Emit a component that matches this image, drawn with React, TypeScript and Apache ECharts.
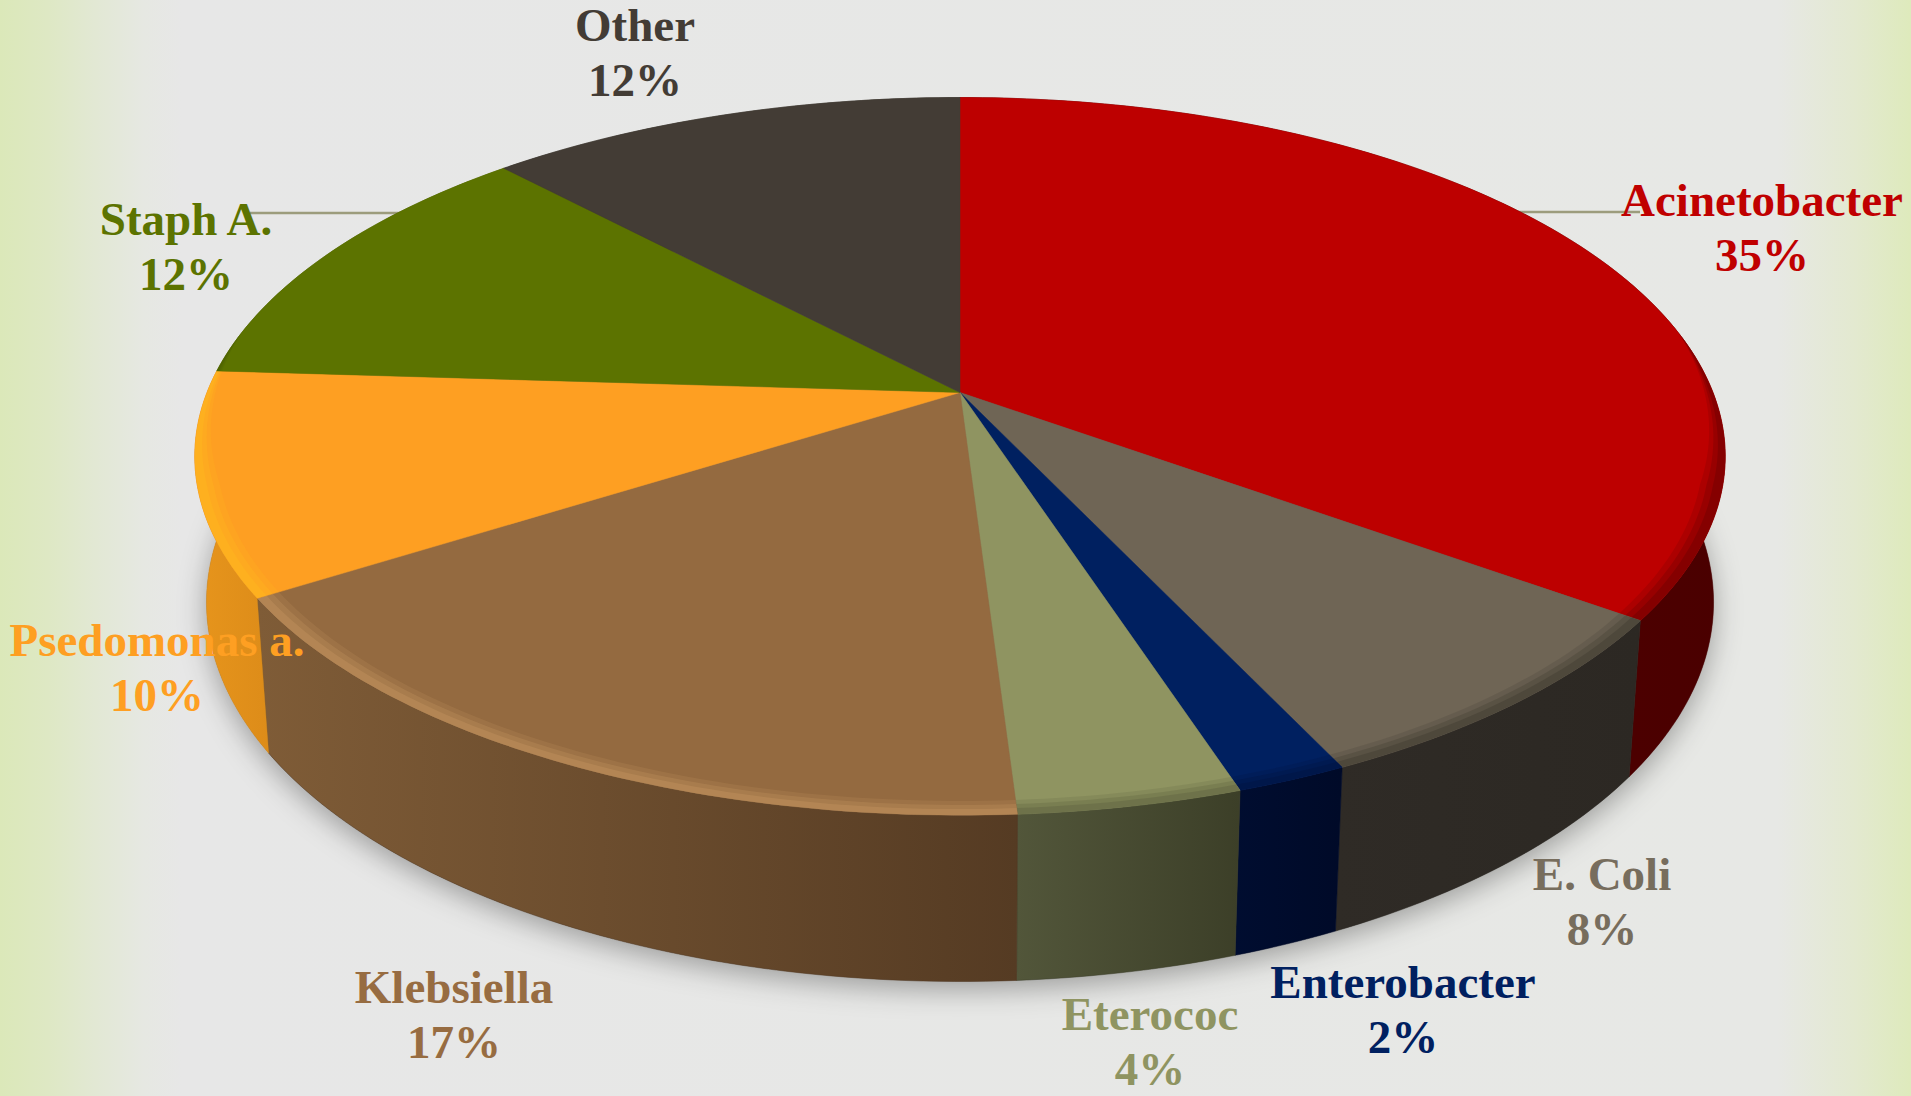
import React, { useEffect, useRef } from "react";
import * as echarts from "echarts";

// Share of isolates per organism, clockwise from twelve o'clock.
const organisms = ["Acinetobacter", "E. Coli", "Enterobacter", "Eterococ", "Klebsiella", "Psedomonas a.", "Staph A.", "Other"];
const shares = [35, 8, 2, 4, 17, 10, 12, 12];

const topColors = ["#bd0000", "#6f6555", "#002060", "#8f9461", "#946a40", "#fe9f22", "#5c7300", "#433c35"];
const rimColors = ["#6a0000", "#3f3a30", "#001440", "#5f6240", "#c4945f", "#ffb81f", "#4c5f00", "#3a342e"];
const sideLeftColors = ["#5a0000", "#2f2b26", "#000d30", "#52563a", "#7f5c37", "#e7951c", "#4c5f00", "#3a342e"];
const sideRightColors = ["#4a0000", "#2c2823", "#000a28", "#3c3f28", "#553b23", "#dd8c19", "#4c5f00", "#3a342e"];
const labelColors = ["#c00000", "#776d5d", "#002060", "#8f9461", "#976c41", "#fe9f22", "#5c7300", "#433c35"];

// Label centres in page pixels (block of two lines), same order as the organisms.
const labelAnchors = [
  [1762, 227], [1602, 901], [1403, 1009], [1150, 1041],
  [454, 1014], [157, 667], [186, 246], [635, 52],
];
const LINE_GAP = 55;

// Perspective model of the disc: screen position of a point on the rim.
const CX = 960;
const CY = 392.5;
const A = 753;
const B = 347.5;
const K = 0.178;
const DROP = 145.5;
const DEPTH = 0.015;
const STEP = Math.PI / 180;

// The bevel only shows on the half of the rim that faces the viewer: stacked translucent
// ribbons running inward from the edge give it a soft inner falloff, and they narrow to
// nothing towards the silhouette.
const FRONT_FROM = 80 * STEP;
const FRONT_TO = 280 * STEP;
const BEVEL_TAPER = 25 * STEP;
const BEVEL_RIBBONS = [
  { inner: 0.972, opacity: 0.2 },
  { inner: 0.98, opacity: 0.3 },
  { inner: 0.988, opacity: 0.4 },
];

type Pt = [number, number];

function project(theta: number, r: number, lower: boolean): Pt {
  const u = Math.sin(theta) * r;
  const v = Math.cos(theta) * r;
  const w = 1 + K * v + (lower ? DEPTH : 0);
  return [CX + (A * u) / w, CY - (B * v - (lower ? DROP : 0)) / w];
}

function arc(from: number, to: number, lower: boolean): Pt[] {
  const pts: Pt[] = [];
  const n = Math.max(2, Math.ceil((to - from) / STEP));
  for (let i = 0; i <= n; i++) pts.push(project(from + ((to - from) * i) / n, 1, lower));
  return pts;
}

function bevelEdge(from: number, to: number, inner: number): Pt[] {
  const pts: Pt[] = [];
  const n = Math.max(2, Math.ceil((to - from) / STEP));
  for (let i = 0; i <= n; i++) {
    const theta = from + ((to - from) * i) / n;
    const reach = Math.min(1, (theta - FRONT_FROM) / BEVEL_TAPER, (FRONT_TO - theta) / BEVEL_TAPER);
    pts.push(project(theta, 1 - (1 - inner) * reach, false));
  }
  return pts;
}

const total = shares.reduce((s, v) => s + v, 0);

function sweep(index: number, value: number): [number, number] {
  const before = shares.slice(0, index).reduce((s, v) => s + v, 0);
  const start = (before / total) * Math.PI * 2;
  return [start, start + (value / total) * Math.PI * 2];
}

const renderSide = (params: any, api: any) => {
  const i = params.dataIndex;
  const [a, b] = sweep(i, api.value(0));
  const points = [...arc(a, b, false), ...arc(a, b, true).reverse()];
  return {
    type: "polygon",
    shape: { points },
    style: {
      fill: { type: "linear", x: 0, y: 0, x2: 1, y2: 0, colorStops: [
        { offset: 0, color: sideLeftColors[i] },
        { offset: 1, color: sideRightColors[i] },
      ] },
      stroke: sideRightColors[i],
      lineWidth: 0.5,
    },
  };
};

const renderTop = (params: any, api: any) => {
  const i = params.dataIndex;
  const [a, b] = sweep(i, api.value(0));
  const children: any[] = [
    {
      type: "polygon",
      shape: { points: [[CX, CY], ...arc(a, b, false)] },
      style: { fill: topColors[i], stroke: topColors[i], lineWidth: 0.5 },
    },
  ];
  const from = Math.max(a, FRONT_FROM);
  const to = Math.min(b, FRONT_TO);
  if (to > from) {
    const outer = arc(from, to, false);
    for (const { inner, opacity } of BEVEL_RIBBONS) {
      children.push({
        type: "polygon",
        shape: { points: [...outer, ...bevelEdge(from, to, inner).reverse()] },
        style: { fill: rimColors[i], opacity },
      });
    }
  }
  return { type: "group", children };
};

const labelLine = (text: string, x: number, y: number, fill: string) => ({
  type: "text",
  x,
  y,
  style: {
    text,
    fill,
    font: 'bold 47px "Liberation Serif"',
    lineHeight: 38,
    align: "center",
    verticalAlign: "middle",
  },
});

const renderLabel = (params: any, api: any) => {
  const i = params.dataIndex;
  const [x, y] = labelAnchors[i];
  return {
    type: "group",
    children: [
      labelLine(organisms[i], x, y - LINE_GAP / 2, labelColors[i]),
      labelLine(`${api.value(0)}%`, x, y + LINE_GAP / 2, labelColors[i]),
    ],
  };
};

export default function App() {
  const ref = useRef<HTMLDivElement>(null);

  useEffect(() => {
    document.body.style.margin = "0";
    const chart = echarts.init(ref.current!, undefined, { renderer: "svg" });
    const data = shares.map((v) => [v]);
    const base = { type: "custom", coordinateSystem: "none", silent: true, data };
    chart.setOption({
      animation: false,
      backgroundColor: {
        type: "linear", x: 0, y: 0, x2: 1, y2: 0,
        colorStops: [
          { offset: 0, color: "#dbe8b9" },
          { offset: 0.025, color: "#dee8c4" },
          { offset: 0.05, color: "#e2e8d4" },
          { offset: 0.075, color: "#e6e8e2" },
          { offset: 0.095, color: "#e7e7e7" },
          { offset: 0.93, color: "#e7e8e5" },
          { offset: 0.97, color: "#e3e9d0" },
          { offset: 1, color: "#deeabc" },
        ],
      },
      graphic: [
        {
          type: "polygon",
          z: 1,
          silent: true,
          shape: { points: arc(0, Math.PI * 2, true) },
          style: {
            fill: "#777",
            shadowBlur: 28,
            shadowOffsetY: 8,
            shadowColor: "rgba(0,0,0,0.32)",
          },
        },
        ...[
          [250, 213, 420, 213],
          [1500, 212, 1640, 212],
        ].map(([x1, y1, x2, y2]) => ({
          type: "line",
          z: 1,
          silent: true,
          shape: { x1, y1, x2, y2 },
          style: { stroke: "#9c9c7c", lineWidth: 2.5 },
        })),
      ],
      series: [
        { ...base, z: 2, renderItem: renderSide },
        { ...base, z: 3, renderItem: renderTop },
        { ...base, z: 4, renderItem: renderLabel },
      ],
    });
    return () => chart.dispose();
  }, []);

  return <div ref={ref} style={{ width: 1911, height: 1096 }} />;
}
